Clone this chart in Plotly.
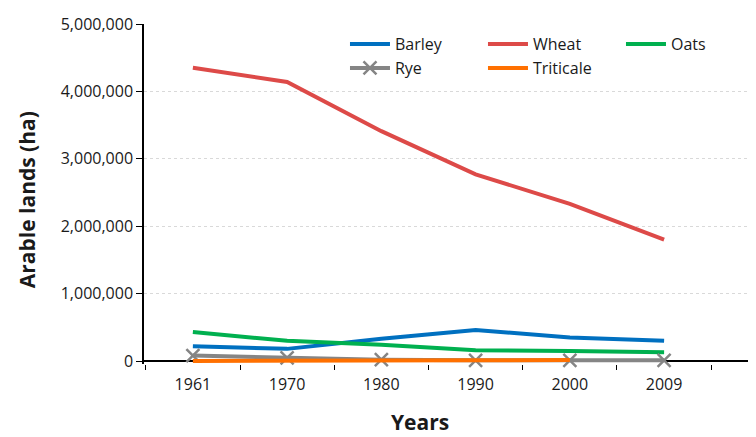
import plotly.graph_objects as go

years = ["1961", "1970", "1980", "1990", "2000", "2009"]
barley = [220000, 180000, 330000, 460000, 350000, 300000]
wheat = [4350000, 4140000, 3410000, 2770000, 2330000, 1800000]
oats = [430000, 300000, 240000, 160000, 150000, 130000]
rye = [80000, 45000, 20000, 10000, 10000, 10000]
triticale = [0, 0, 5000, 10000, 15000, None]
y_ticks = [0, 1000000, 2000000, 3000000, 4000000, 5000000]

FONT = "Open Sans"
fig = go.Figure()
fig.add_trace(go.Scatter(x=years, y=barley, name="Barley", mode="lines", legend="legend",
                         legendwidth=83, line=dict(color="#0070C0", width=4)))
fig.add_trace(go.Scatter(x=years, y=wheat, name="Wheat", mode="lines", legend="legend",
                         legendwidth=83, line=dict(color="#DD4A48", width=4)))
fig.add_trace(go.Scatter(x=years, y=oats, name="Oats", mode="lines", legend="legend",
                         legendwidth=40, line=dict(color="#00B04F", width=4)))
fig.add_trace(go.Scatter(x=years, y=rye, name="Rye", mode="lines+markers", legend="legend2",
                         legendwidth=83, cliponaxis=False, line=dict(color="#858585", width=4),
                         marker=dict(symbol="x-thin", size=13, color="#858585",
                                     line=dict(color="#858585", width=2.5))))
fig.add_trace(go.Scatter(x=years, y=triticale, name="Triticale", mode="lines", legend="legend2",
                         legendwidth=70, line=dict(color="#FF7000", width=4)))

leg_common = dict(orientation="h", xanchor="left", yanchor="middle",
                  entrywidthmode="pixels", itemwidth=40,
                  font=dict(family=FONT, size=16, color="#1a1a1a"),
                  traceorder="normal", bgcolor="rgba(0,0,0,0)", borderwidth=0)

fig.update_layout(
    width=748, height=429,
    margin=dict(l=136, r=0, t=16, b=73, pad=0, autoexpand=False),
    paper_bgcolor="white", plot_bgcolor="white",
    font=dict(family=FONT, size=16, color="#1a1a1a"),
    showlegend=True,
    legend=dict(x=0.3284, y=0.9412, **leg_common),
    legend2=dict(x=0.3284, y=0.8706, **leg_common),
    xaxis=dict(type="category", range=[-0.5186, 5.975], tickson="boundaries",
               ticks="outside", ticklen=5, tickcolor="black", tickwidth=1,
               ticklabelstandoff=9,
               showline=False, showgrid=False, tickfont=dict(size=16)),
    yaxis=dict(range=[-44500, 5000000], tickvals=y_ticks, tickformat=",d",
               ticks="outside", ticklen=6, tickcolor="black", tickwidth=1,
               showline=True, linecolor="black", linewidth=1.5,
               showgrid=True, gridcolor="#D9D9D9", gridwidth=1, griddash="dot",
               zeroline=True, zerolinecolor="black", zerolinewidth=1.5,
               tickfont=dict(size=16)),
)
fig.add_annotation(text="<b>Years</b>", xref="paper", yref="paper",
                   x=0.451, y=-0.1706, xanchor="center", yanchor="middle",
                   showarrow=False, font=dict(size=21))
fig.add_annotation(text="<b>Arable lands (ha)</b>", xref="paper", yref="paper",
                   x=-0.191, y=0.482, xanchor="center", yanchor="middle",
                   textangle=-90, showarrow=False, font=dict(size=21))
fig.write_html("out.html")
